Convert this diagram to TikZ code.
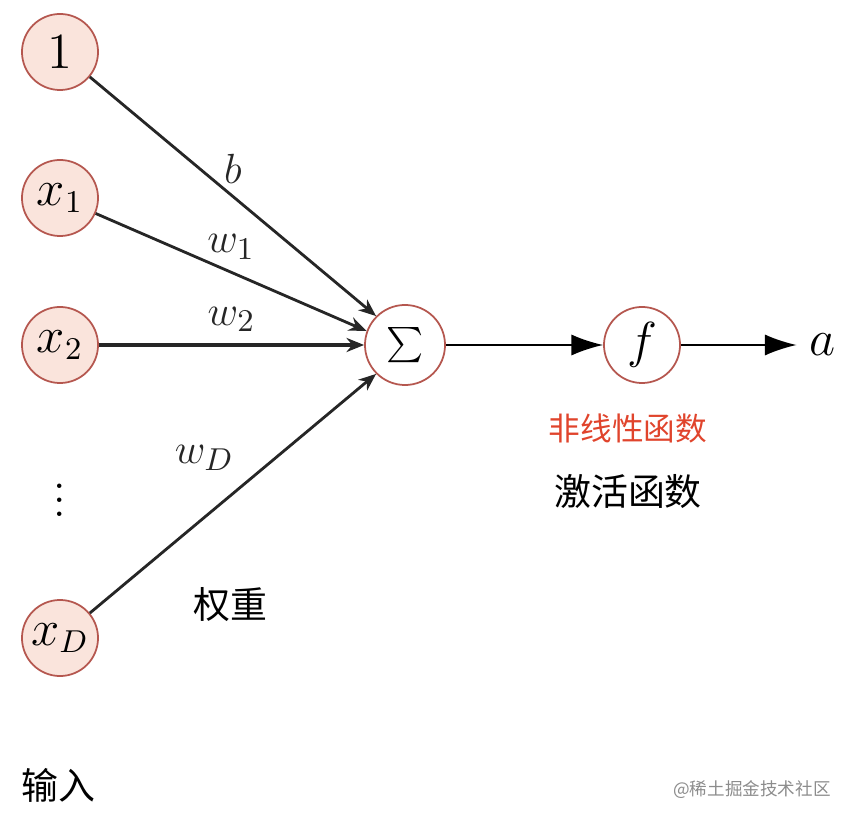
\documentclass[tikz,border=0pt]{standalone}
\usepackage{fontspec}
\newfontfamily\cjk{Noto Sans CJK SC}
\usetikzlibrary{arrows.meta}
\definecolor{nodefill}{HTML}{FAE4DC}
\definecolor{nodeline}{HTML}{B5574F}
\definecolor{labelred}{HTML}{E0442C}
\begin{document}
\begin{tikzpicture}[x=0.01cm,y=-0.01cm,
    input node/.style={circle, draw=nodeline, fill=nodefill, line width=0.5pt, minimum size=0.76cm, inner sep=0pt, font=\fontsize{13.5}{15}\selectfont},
    sum node/.style={circle, draw=nodeline, fill=white, line width=0.5pt, minimum size=0.8cm, inner sep=0pt, font=\fontsize{13.5}{15}\selectfont},
    weight/.style={-{Stealth[length=5pt,width=4pt]}, line width=0.8pt, black!85},
    flow/.style={-{Latex[length=9pt,width=6pt]}, line width=0.5pt},
    wlabel/.style={font=\fontsize{13}{15}\selectfont},
    cjk label/.style={font=\cjk\fontsize{10.5}{12}\selectfont}
  ]
  \useasboundingbox (0,0) rectangle (852,822);

  % inputs
  \node[input node] (one) at (60,52) {$1$};
  \node[input node] (x1) at (60,198) {$x_1$};
  \node[input node] (x2) at (60,345) {$x_2$};
  \node[font=\fontsize{13}{15}\selectfont] (dots) at (60,490) {$\vdots$};
  \node[input node] (xD) at (60,638) {$x_D$};

  % sum and activation
  \node[sum node] (sum) at (405,345) {$\sum$};
  \node[sum node, minimum size=0.76cm] (f) at (642,345) {$f$};
  \node[font=\fontsize{14}{16}\selectfont] (a) at (822,345) {$a$};

  % weighted connectors
  \draw[weight] (one) -- (sum.135) node[wlabel, pos=0.5, above=0pt] {$b$};
  \draw[weight] (x1) -- (sum.160) node[wlabel, pos=0.5, above=0pt] {$w_1$};
  \draw[weight, line width=1pt] (x2) -- (sum) node[wlabel, pos=0.5, above=0pt] {$w_2$};
  \draw[weight] (xD) -- (sum.225) node[wlabel, pos=0.5, above=10pt, left=-4pt] {$w_D$};
  \draw[flow] (sum) -- (f);
  \draw[flow] (f) -- (a);

  % texts
  \node[cjk label, text=labelred, font=\cjk\fontsize{9}{10}\selectfont] (nonlin) at (628,428) {非线性函数};
  \node[cjk label] (act) at (628,492) {激活函数};
  \node[cjk label] (wt) at (230,605) {权重};
  \node[cjk label] (inp) at (58,785) {输入};
  \node[font=\cjk\fontsize{5}{6}\selectfont, text=black!45] (mark) at (752,790) {@稀土掘金技术社区};
\end{tikzpicture}
\end{document}
